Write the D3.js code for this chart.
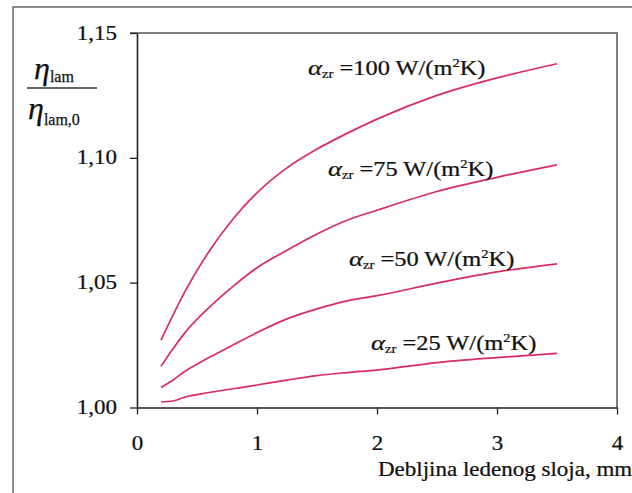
<!DOCTYPE html>
<html><head><meta charset="utf-8">
<script src="https://cdn.jsdelivr.net/npm/d3@7/dist/d3.min.js"></script>
<style>
html,body{margin:0;padding:0;background:#fff;}
svg{display:block;}
text{font-family:"Liberation Serif",serif;fill:#111;}
</style></head>
<body>
<svg id="chart" width="632" height="493"></svg>
<script>
// ---- data ----
const thickness = [0.2,0.3,0.4,0.6,0.8,1.0,1.25,1.5,1.75,2.0,2.5,3.0,3.5];
const alpha100 = [1.027,1.037,1.0465,1.0625,1.0755,1.086,1.096,1.1035,1.1098,1.1155,1.125,1.132,1.1377];
const alpha75  = [1.0165,1.0235,1.030,1.040,1.0485,1.056,1.063,1.0695,1.075,1.079,1.0865,1.0922,1.0972];
const alpha50  = [1.008,1.011,1.0145,1.020,1.025,1.030,1.0355,1.0395,1.0427,1.0448,1.0498,1.0543,1.0575];
const alpha25  = [1.0022,1.0026,1.0042,1.006,1.0075,1.009,1.011,1.0128,1.014,1.015,1.018,1.020,1.0217];
const seriesNames = ["100","75","50","25"];
const xTicks = [0,1,2,3,4];
const yTicks = [1.00,1.05,1.10,1.15];
const xTitle = "Debljina ledenog sloja, mm";

const svg = d3.select("#chart");
const FONT = "'Liberation Serif', serif";
const lineColor = "#d92d5f";
const SX = 1.15; // horizontal stretch of the original's lettering

// outer frame
svg.append("rect").attr("x",13).attr("y",7).attr("width",700).attr("height",600)
  .attr("fill","none").attr("stroke","#666").attr("stroke-width",1.5);

const x = d3.scaleLinear().domain([0,4]).range([137,617]);
const y = d3.scaleLinear().domain([1.00,1.15]).range([407.5,33]);

// plot frame (top/right)
svg.append("path")
  .attr("d",`M${x(0)-7},${y(1.15)}H${x(4)}V${y(1.0)}`)
  .attr("fill","none").attr("stroke","#555").attr("stroke-width",1.5);

const fmt = d => d3.format(".2f")(d).replace(".",",");

const gy = svg.append("g").attr("transform",`translate(${x(0)},0)`)
  .call(d3.axisLeft(y).tickValues(yTicks).tickFormat(fmt).tickSize(7).tickSizeOuter(0));
const gx = svg.append("g").attr("transform",`translate(0,${y(1.0)})`)
  .call(d3.axisBottom(x).tickValues(xTicks).tickFormat(d3.format("d")).tickSize(7).tickSizeOuter(0));
[gy,gx].forEach(g=>{
  g.select(".domain").attr("stroke","#222").attr("stroke-width",1.6);
  g.selectAll(".tick line").attr("stroke","#222").attr("stroke-width",1.3);
  g.selectAll("text").attr("font-size",20).attr("fill","#111")
   .attr("stroke","#111").attr("stroke-width",0.25)
   .attr("font-family",FONT);
});
gy.selectAll(".tick text").attr("x",0).attr("dy",0)
  .attr("transform","translate(-20,6) scale("+SX+",1)");
gx.selectAll(".tick text").attr("y",0).attr("dy",0)
  .attr("transform","translate(0,42) scale("+SX+",1)");

// curves
const series = [alpha100, alpha75, alpha50, alpha25];
const line = d3.line().x((d,i)=>x(thickness[i])).y(d=>y(d)).curve(d3.curveMonotoneX);
svg.append("g").selectAll("path").data(series).join("path")
  .attr("d",d=>line(d)).attr("fill","none").attr("stroke",lineColor)
  .attr("stroke-width",1.7).attr("stroke-linejoin","round");

// curve labels
const labelPos = [[308,75],[328,176],[349,266],[371,350]];
seriesNames.forEach((n,i)=>{
  const g = svg.append("g").attr("transform",`translate(${labelPos[i][0]},${labelPos[i][1]}) scale(1.22,1)`);
  const t = g.append("text").attr("font-size",20).attr("font-family",FONT)
    .attr("stroke","#111").attr("stroke-width",0.25);
  t.append("tspan").attr("font-style","italic").attr("font-size",22).text("α");
  t.append("tspan").attr("font-size",12).attr("dy",3).text("zr");
  t.append("tspan").attr("dy",-3).text(" =" + n + " W/(m");
  t.append("tspan").attr("font-size",12).attr("dy",-8).text("2");
  t.append("tspan").attr("dy",8).text("K)");
});

// y-axis label (fraction)
const fy = svg.append("g");
const t1 = fy.append("text").attr("x",34).attr("y",79).attr("font-family",FONT)
  .attr("stroke","#111").attr("stroke-width",0.25);
t1.append("tspan").attr("font-style","italic").attr("font-size",32).text("η");
t1.append("tspan").attr("font-size",16).attr("dy",3).text("lam");
fy.append("line").attr("x1",27).attr("x2",97).attr("y1",88).attr("y2",88)
  .attr("stroke","#333").attr("stroke-width",1.3);
const t2 = fy.append("text").attr("x",28).attr("y",119).attr("font-family",FONT)
  .attr("stroke","#111").attr("stroke-width",0.25);
t2.append("tspan").attr("font-style","italic").attr("font-size",32).text("η");
t2.append("tspan").attr("font-size",16).attr("dy",6).text("lam,0");

// x title
svg.append("g").attr("transform",`translate(378,476) scale(1.15,1)`)
  .append("text").attr("font-size",20).attr("font-family",FONT)
  .attr("stroke","#111").attr("stroke-width",0.25).text(xTitle);
</script>
</body></html>
